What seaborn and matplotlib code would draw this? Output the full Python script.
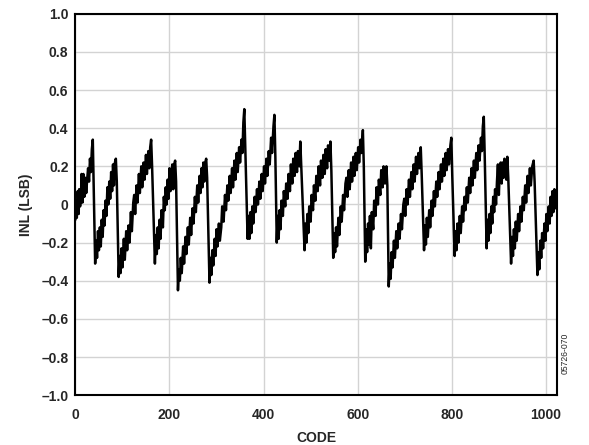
"""
INL vs code plot (ADC datasheet style), redrawn with seaborn.
Values are hand-read from the reference figure, one line per sawtooth ramp.
"""

import numpy as np
import pandas as pd
import matplotlib
matplotlib.use("Agg")
import matplotlib.pyplot as plt
import seaborn as sns

# --- data -----------------------------------------------------------------
CODE = [
    0, 2, 3, 5, 7, 8, 10, 12, 13, 15, 17, 19, 21, 23, 25, 27, 29, 31, 33, 35, 37,
    42, 44, 46, 48, 50, 52, 54, 56, 58, 60, 62, 64, 66, 68, 70, 72, 74, 76, 78, 80, 82, 84, 86, 88,
    92, 94, 96, 98, 100, 103, 105, 108, 110, 113, 115, 118, 120, 123, 125, 127, 130, 132, 135, 137,
    140, 142, 145, 147, 150, 152, 155, 157, 159, 161, 163,
    169, 171, 173, 175, 177, 179, 181, 183, 186, 188, 190, 192, 194, 196, 198, 200, 202, 204, 206,
    208, 210, 212, 214,
    218, 220, 222, 224, 226, 229, 231, 234, 236, 239, 241, 244, 246, 249, 251, 254, 256, 259, 261,
    264, 266, 268, 270, 272, 274, 276, 278, 280,
    285, 287, 289, 291, 293, 296, 298, 300, 302, 305, 307, 310, 312, 315, 318, 320, 323, 325, 328,
    330, 333, 335, 338, 340, 343, 345, 348, 350, 353, 355, 357, 359, 361,
    366, 368, 370, 372, 374, 376, 378, 381, 383, 386, 388, 391, 393, 396, 398, 401, 403, 406, 408,
    411, 413, 416, 418, 421, 423, 425,
    428, 430, 432, 434, 436, 438, 441, 443, 446, 448, 451, 453, 456, 458, 461, 463, 466, 468, 471,
    473, 476, 478, 482,
    487, 489, 491, 493, 495, 497, 500, 502, 505, 507, 510, 512, 515, 517, 520, 522, 525, 527, 530,
    532, 535, 537, 540, 542, 544,
    548, 550, 552, 554, 556, 559, 561, 564, 566, 569, 571, 574, 576, 578, 581, 583, 586, 588, 591,
    593, 596, 598, 601, 603, 606, 608, 611, 613,
    616, 618, 620, 622, 624, 626, 628, 630, 633, 635, 638, 640, 643, 645, 648, 650, 653, 655, 658,
    661, 663,
    666, 668, 670, 672, 674, 677, 679, 682, 684, 687, 689, 692, 694, 697, 699, 701, 704, 706, 709,
    711, 714, 716, 719, 721, 724, 726, 729, 731, 734, 736,
    741, 743, 745, 747, 749, 752, 754, 757, 759, 762, 764, 767, 769, 772, 774, 777, 779, 782, 784,
    787, 789, 792, 794, 797, 799, 801,
    806, 808, 810, 812, 814, 817, 819, 822, 824, 827, 829, 832, 834, 837, 839, 842, 844, 847, 849,
    852, 854, 857, 859, 862, 864, 866, 868, 870,
    874, 876, 878, 880, 882, 884, 886, 888, 890, 892, 894, 896, 898, 900, 902, 904, 906, 908, 910,
    912, 914, 916, 918, 920,
    926, 928, 930, 932, 934, 936, 938, 941, 943, 946, 948, 951, 953, 956, 958, 961, 963, 966, 968,
    971, 974, 976,
    982, 984, 986, 988, 990, 992, 994, 997, 999, 1001, 1003, 1006, 1008, 1010, 1012, 1014, 1016,
    1018, 1020, 1023,
]
INL = [
    -0.08, 0.02, -0.07, 0.07, -0.05, 0.08, -0.01, 0.05, 0.16, 0.01, 0.16, 0.04, 0.14, 0.06, 0.13,
    0.19, 0.12, 0.24, 0.17, 0.29, 0.34,
    -0.31, -0.19, -0.28, -0.14, -0.24, -0.12, -0.22, -0.08, -0.17, -0.03, -0.11, 0.02, -0.06, 0.09,
    0.00, 0.12, 0.03, 0.17, 0.07, 0.21, 0.10, 0.22, 0.24, 0.12,
    -0.38, -0.27, -0.36, -0.23, -0.33, -0.18, -0.29, -0.14, -0.24, -0.11, -0.20, -0.04, -0.14,
    0.01, 0.05, -0.05, 0.10, 0.01, 0.16, 0.06,
    0.20, 0.09, 0.22, 0.13, 0.26, 0.16, 0.28, 0.19, 0.30, 0.34, 0.20,
    -0.31, -0.16, -0.26, -0.12, -0.23, -0.08, -0.18, -0.03, -0.12, 0.04, -0.03, 0.09, 0.00, 0.13,
    0.03, 0.19, 0.07, 0.15, 0.21,
    0.08, 0.21, 0.23, 0.12,
    -0.45, -0.34, -0.40, -0.28, -0.36, -0.22, -0.31, -0.17, -0.26, -0.12, -0.21, -0.07, -0.16,
    -0.02, -0.10, 0.04, -0.04, 0.10, 0.01,
    0.15, 0.06, 0.19, 0.09, 0.22, 0.12, 0.22, 0.24, 0.14,
    -0.41, -0.28, -0.37, -0.24, -0.32, -0.18, -0.27, -0.13, -0.22, -0.10, -0.19, -0.12, -0.01,
    -0.09, 0.05, -0.03, 0.10, 0.02, 0.15,
    0.06, 0.19, 0.09, 0.23, 0.13, 0.27, 0.17, 0.30, 0.22, 0.34, 0.27, 0.43, 0.50, 0.30,
    -0.18, -0.06, -0.18, -0.04, -0.15, -0.01, -0.10, 0.04, -0.04, 0.08, 0.00, 0.12, 0.03, 0.16,
    0.07, 0.20, 0.11, 0.24, 0.15,
    0.28, 0.21, 0.35, 0.27, 0.41, 0.47, 0.25,
    -0.20, -0.06, -0.18, -0.03, -0.13, 0.02, -0.06, 0.07, -0.01, 0.11, 0.03, 0.16, 0.07, 0.21,
    0.11, 0.24, 0.15, 0.27, 0.17,
    0.28, 0.20, 0.33, 0.08,
    -0.24, -0.10, -0.20, -0.05, -0.15, -0.01, -0.09, 0.05, -0.03, 0.10, 0.02, 0.15, 0.07, 0.20,
    0.10, 0.23, 0.14, 0.26, 0.16,
    0.29, 0.19, 0.31, 0.23, 0.33, 0.18,
    -0.28, -0.15, -0.25, -0.12, -0.22, -0.07, -0.16, -0.01, -0.09, 0.05, -0.03, 0.11, 0.14, 0.04,
    0.18, 0.08, 0.22, 0.12, 0.25,
    0.15, 0.27, 0.18, 0.30, 0.22, 0.34, 0.27, 0.39, 0.20,
    -0.30, -0.13, -0.25, -0.10, -0.21, -0.06, -0.23, -0.04, -0.13, 0.02, -0.06, 0.09, 0.00, 0.13,
    0.05, 0.18, 0.09, 0.20, 0.11,
    0.20, 0.10,
    -0.43, -0.31, -0.39, -0.25, -0.33, -0.19, -0.28, -0.14, -0.23, -0.10, -0.18, -0.05, -0.13,
    0.00, 0.03, -0.06, 0.08, 0.00, 0.13,
    0.04, 0.17, 0.08, 0.21, 0.12, 0.25, 0.16, 0.27, 0.19, 0.30, 0.16,
    -0.24, -0.11, -0.21, -0.07, -0.17, -0.03, -0.12, 0.02, -0.06, 0.07, -0.01, 0.12, 0.04, 0.17,
    0.08, 0.21, 0.12, 0.24, 0.15,
    0.27, 0.18, 0.29, 0.21, 0.31, 0.35, 0.15,
    -0.27, -0.14, -0.24, -0.10, -0.20, -0.06, -0.15, -0.01, -0.09, 0.04, -0.03, 0.09, 0.01, 0.14,
    0.06, 0.19, 0.10, 0.23, 0.14,
    0.27, 0.18, 0.31, 0.23, 0.35, 0.28, 0.41, 0.46, 0.25,
    -0.23, -0.08, -0.19, -0.05, -0.15, -0.01, -0.10, 0.04, -0.04, 0.08, 0.00, 0.12, 0.21, 0.05,
    0.18, 0.22, 0.11, 0.22, 0.14,
    0.24, 0.16, 0.13, 0.25, 0.14,
    -0.31, -0.17, -0.27, -0.13, -0.23, -0.09, -0.19, -0.05, -0.14, -0.01, -0.09, 0.04, -0.03, 0.10,
    0.01, 0.15, 0.06, 0.19, 0.10,
    0.20, 0.23, 0.12,
    -0.37, -0.25, -0.34, -0.19, -0.28, -0.15, -0.23, -0.10, -0.19, -0.05, -0.14, -0.01, -0.10,
    0.04, -0.06, 0.07, -0.04,
    0.08, -0.02, 0.05,
]

X_TICKS = [0, 200, 400, 600, 800, 1000]
Y_TICKS = [-1.0, -0.8, -0.6, -0.4, -0.2, 0, 0.2, 0.4, 0.6, 0.8, 1.0]
Y_TICK_LABELS = ["\u20131.0", "\u20130.8", "\u20130.6", "\u20130.4", "\u20130.2", "0",
                 "0.2", "0.4", "0.6", "0.8", "1.0"]


def main():
    df = pd.DataFrame({"code": CODE, "inl": INL})

    sns.set_style("whitegrid", {"grid.color": "#d3d3d3", "axes.edgecolor": "black"})
    plt.rcParams["font.family"] = ["Liberation Sans", "DejaVu Sans"]
    plt.rcParams["font.weight"] = "bold"

    fig = plt.figure(figsize=(5.89, 4.45), dpi=100)
    ax = fig.add_axes([0.128, 0.112, 0.818, 0.857])

    sns.lineplot(data=df, x="code", y="inl", ax=ax, color="black", linewidth=1.8,
                 estimator=None, sort=False)

    ax.set_xlim(0, 1024)
    ax.set_ylim(-1.0, 1.0)
    ax.set_xticks(X_TICKS)
    ax.set_xticklabels([str(t) for t in X_TICKS], fontsize=10, fontweight="bold")
    ax.set_yticks(Y_TICKS)
    ax.set_yticklabels(Y_TICK_LABELS, fontsize=10, fontweight="bold")
    ax.tick_params(axis="x", length=0, pad=9)
    ax.tick_params(axis="y", length=0, pad=5)
    ax.grid(True, color="#d3d3d3", linewidth=1.0)

    for side in ax.spines.values():
        side.set_visible(True)
        side.set_color("black")
        side.set_linewidth(1.5)

    ax.set_xlabel("CODE", fontsize=10, fontweight="bold", labelpad=7)
    ax.set_ylabel("INL (LSB)", fontsize=10, fontweight="bold", labelpad=6)

    fig.text(0.959, 0.205, "05726-070", rotation=90, fontsize=6.2, fontweight="normal",
             ha="center", va="center")

    fig.savefig("out.png", dpi=100)
    plt.close(fig)


if __name__ == "__main__":
    main()
